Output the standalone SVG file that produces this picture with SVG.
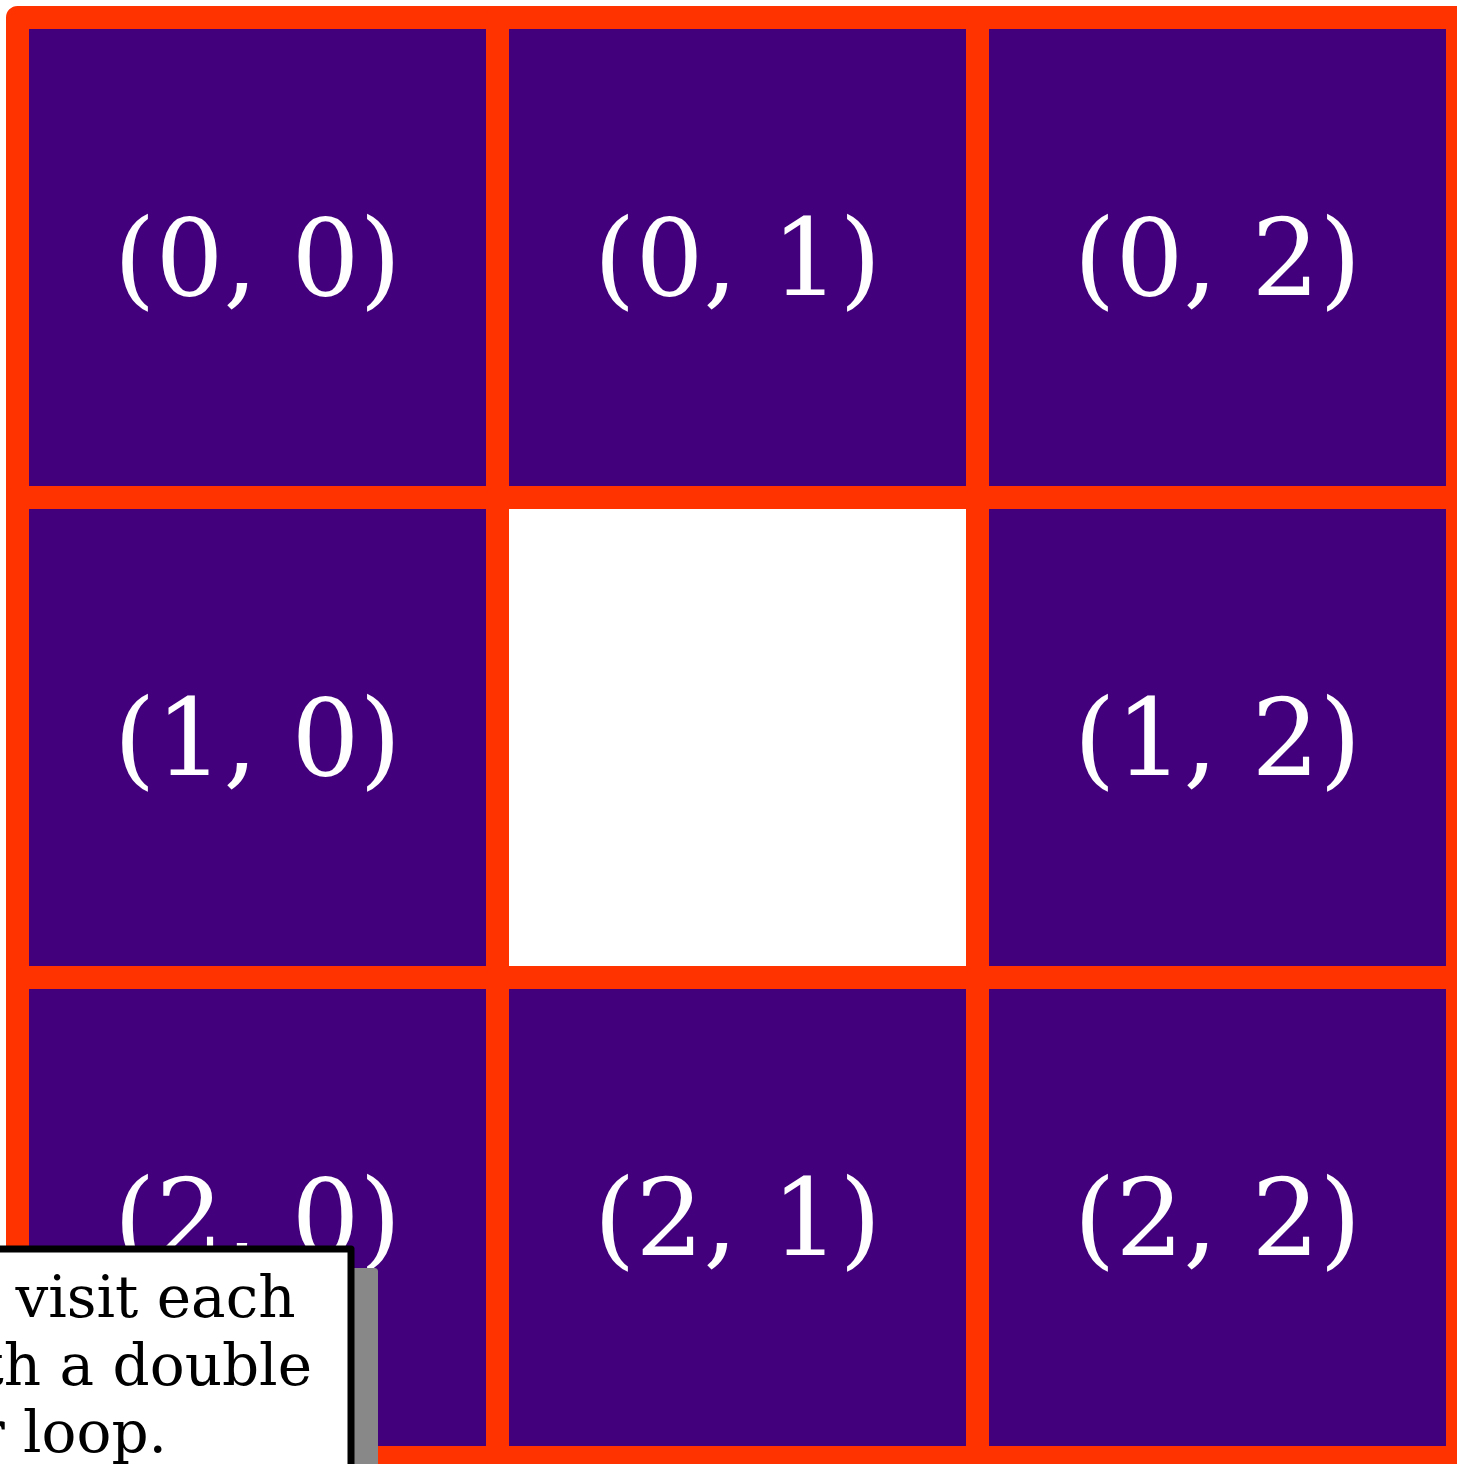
<svg xmlns="http://www.w3.org/2000/svg" width="1457" height="1464" viewBox="0 0 1457 1464">
<style>
.fill{fill:#42007c;stroke:none}
.empty{fill:#ffffff;stroke:none}
.border{fill:none;stroke:#ff3300;stroke-width:23;stroke-linejoin:round}
.lbl{font-family:"DejaVu Serif",serif;font-size:107px;fill:#ffffff;text-anchor:middle}
.note{font-family:"DejaVu Serif",serif;font-size:58px;fill:#000000;text-anchor:end}
</style>
<rect width="1457" height="1464" fill="#ffffff"/>
<g id="fills">
<rect class="fill" x="17.5" y="17.5" width="480" height="480"/>
<rect class="fill" x="497.5" y="17.5" width="480" height="480"/>
<rect class="fill" x="977.5" y="17.5" width="480" height="480"/>
<rect class="fill" x="17.5" y="497.5" width="480" height="480"/>
<rect class="empty" x="497.5" y="497.5" width="480" height="480"/>
<rect class="fill" x="977.5" y="497.5" width="480" height="480"/>
<rect class="fill" x="17.5" y="977.5" width="480" height="480"/>
<rect class="fill" x="497.5" y="977.5" width="480" height="480"/>
<rect class="fill" x="977.5" y="977.5" width="480" height="480"/>
</g>
<g id="borders">
<rect class="border" x="17.5" y="17.5" width="480" height="480"/>
<rect class="border" x="497.5" y="17.5" width="480" height="480"/>
<rect class="border" x="977.5" y="17.5" width="480" height="480"/>
<rect class="border" x="17.5" y="497.5" width="480" height="480"/>
<rect class="border" x="497.5" y="497.5" width="480" height="480"/>
<rect class="border" x="977.5" y="497.5" width="480" height="480"/>
<rect class="border" x="17.5" y="977.5" width="480" height="480"/>
<rect class="border" x="497.5" y="977.5" width="480" height="480"/>
<rect class="border" x="977.5" y="977.5" width="480" height="480"/>
</g>
<g id="cell-0-0"><text class="lbl" x="257.5" y="295">(0, 0)</text></g>
<g id="cell-0-1"><text class="lbl" x="737.5" y="295">(0, 1)</text></g>
<g id="cell-0-2"><text class="lbl" x="1217.5" y="295">(0, 2)</text></g>
<g id="cell-1-0"><text class="lbl" x="257.5" y="775">(1, 0)</text></g>
<g id="cell-1-2"><text class="lbl" x="1217.5" y="775">(1, 2)</text></g>
<g id="cell-2-0"><text class="lbl" x="257.5" y="1255">(2, 0)</text></g>
<g id="cell-2-1"><text class="lbl" x="737.5" y="1255">(2, 1)</text></g>
<g id="cell-2-2"><text class="lbl" x="1217.5" y="1255">(2, 2)</text></g>
<g id="callout">
<rect x="-400" y="1271.5" width="774.5" height="300" fill="#888888" stroke="#888888" stroke-width="7" stroke-linejoin="round"/>
<rect x="-400" y="1249" width="751" height="300" fill="#ffffff" stroke="#000000" stroke-width="7" stroke-linejoin="round"/>
<text class="note" x="295.5" y="1317">We visit each</text>
<text class="note" x="312" y="1385">cell with a double</text>
<text class="note" x="167" y="1452">for loop.</text>
</g>
</svg>
